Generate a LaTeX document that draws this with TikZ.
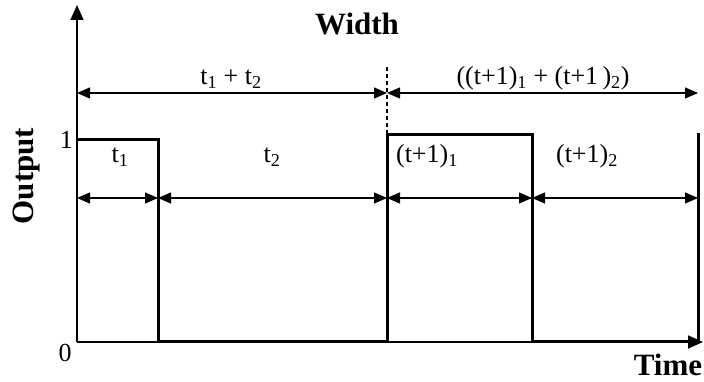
\documentclass[tikz,border=0pt]{standalone}
\usepackage{fontspec}
\setmainfont{Liberation Serif}
\usetikzlibrary{arrows.meta,positioning,calc}
\tikzset{
  axis/.style={line width=1.6pt,black,-{Triangle[length=15pt,width=13pt]}},
  sig/.style={line width=3pt,black,line join=miter},
  dim/.style={line width=1.1pt,black,{Triangle[length=13pt,width=11pt]}-{Triangle[length=13pt,width=11pt]}},
  guide/.style={line width=1.1pt,dash pattern=on 4pt off 3pt,black},
  lab/.style={font=\fontsize{26}{30}\selectfont,inner sep=0pt},
  hdr/.style={font=\fontsize{31}{35}\selectfont\bfseries,inner sep=0pt},
}

\begin{document}
\begin{tikzpicture}[x=1pt,y=1pt]
  \useasboundingbox (0,0) rectangle (704,382);
  % axes
  \coordinate (o) at (77,40);
  \coordinate (ytop) at (77,377);
  \coordinate (xend) at (703,40);
  \draw[axis] (o)--(ytop);
  \draw[axis] (o)--(xend);
  \node[lab,anchor=east] (one) at (73,242) {1};
  \node[lab] (zero) at (65,29) {0};
  \node[hdr,rotate=90] (outp) at (27,206) {Output};
  \node[hdr] (time) at (668,17) {Time};
  \node[hdr] (wid) at (357,358) {Width};
  % pulse train
  \draw[sig] (77,242)--(158,242)--(158,40)--(387,40)--(387,247)--(532,247)--(532,40)--(698,40)--(698,249);
  % width arrows
  \coordinate (w0) at (77,289);
  \coordinate (w1) at (387,289);
  \coordinate (w2) at (698,289);
  \draw[dim] (w0)--(w1);
  \draw[dim] (w1)--(w2);
  \coordinate (g0) at (387,315);
  \coordinate (g1) at (387,247);
  \draw[guide] (g0)--(g1);
  \node[lab,anchor=base] (tt) at (231,297) {t\textsubscript{1} + t\textsubscript{2}};
  \node[lab,anchor=base] (nn) at (543,297) {((t+1)\textsubscript{1} + (t+1\,)\textsubscript{2})};
  % part arrows
  \coordinate (p0) at (77,184);
  \coordinate (p1) at (158,184);
  \coordinate (p2) at (387,184);
  \coordinate (p3) at (532,184);
  \coordinate (p4) at (698,184);
  \draw[dim] (p0)--(p1);
  \draw[dim] (p1)--(p2);
  \draw[dim] (p2)--(p3);
  \draw[dim] (p3)--(p4);
  \node[lab,anchor=base] (ta) at (120,219) {t\textsubscript{1}};
  \node[lab,anchor=base] (tb) at (272,219) {t\textsubscript{2}};
  \node[lab,anchor=base] (na) at (427,219) {(t+1)\textsubscript{1}};
  \node[lab,anchor=base] (nb) at (587,219) {(t+1)\textsubscript{2}};
\end{tikzpicture}
\end{document}
